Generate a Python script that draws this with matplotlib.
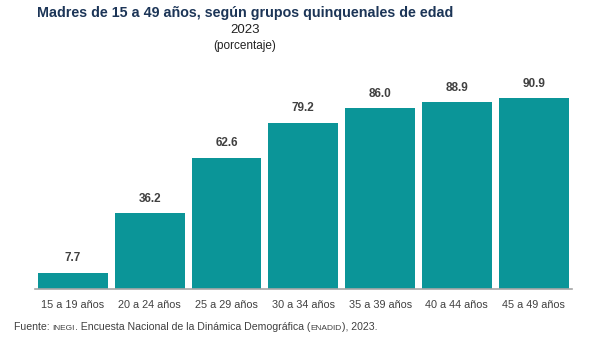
import matplotlib.pyplot as plt

plt.rcParams['font.family'] = ['Liberation Sans', 'DejaVu Sans']

groups = ["15 a 19 años", "20 a 24 años", "25 a 29 años", "30 a 34 años",
          "35 a 39 años", "40 a 44 años", "45 a 49 años"]
values = [7.7, 36.2, 62.6, 79.2, 86.0, 88.9, 90.9]

W, H = 592, 341
fig = plt.figure(figsize=(W / 100, H / 100), dpi=100)
# axes placed in pixel terms: left 34.6, right 572, bottom y=289, top y=79
ax = fig.add_axes([34.6 / W, 1 - 289 / H, (572 - 34.6) / W, (289 - 79) / H])

x = range(len(groups))
ax.bar(x, values, width=0.91, color='#0b9598')
for i, v in enumerate(values):
    ax.annotate(f"{v:.1f}", (i, v), xytext=(0, 6), textcoords='offset points',
                ha='center', va='bottom', fontsize=8.5, fontweight='bold', color='#404040')

ax.set_xlim(-0.5, 6.5)
ax.set_ylim(0, 100)
ax.set_xticks(list(x))
ax.set_xticklabels(groups, fontsize=7.8, color='#404040')
ax.tick_params(axis='x', length=0, pad=8)
ax.set_yticks([])
for s in ['top', 'right', 'left']:
    ax.spines[s].set_visible(False)
ax.spines['bottom'].set_color('#a6a6a6')
ax.spines['bottom'].set_linewidth(1.2)

# titles
fig.text(245 / W, 1 - 13 / H, "Madres de 15 a 49 años, según grupos quinquenales de edad",
         ha='center', va='center', fontsize=10.3, fontweight='bold', color='#1c3557')
fig.text(245 / W, 1 - 30 / H, "2023", ha='center', va='center', fontsize=9.5, color='#222222')
fig.text(245 / W, 1 - 46 / H, "(porcentaje)", ha='center', va='center', fontsize=8.5, color='#222222')

# source line, INEGI / ENADID drawn smaller like small caps
parts = [("Fuente: ", 7.6), ("INEGI", 6), (". Encuesta Nacional de la Dinámica Demográfica (", 7.6),
         ("ENADID", 6), ("), 2023.", 7.6)]
anchor = fig.text(14 / W, 1 - 330 / H, parts[0][0], ha='left', va='baseline',
                  fontsize=parts[0][1], color='#404040')
for txt, fs in parts[1:]:
    anchor = ax.annotate(txt, xy=(1, 0), xycoords=anchor, ha='left', va='bottom',
                         fontsize=fs, color='#404040', annotation_clip=False)

fig.savefig("out.png", dpi=100)
